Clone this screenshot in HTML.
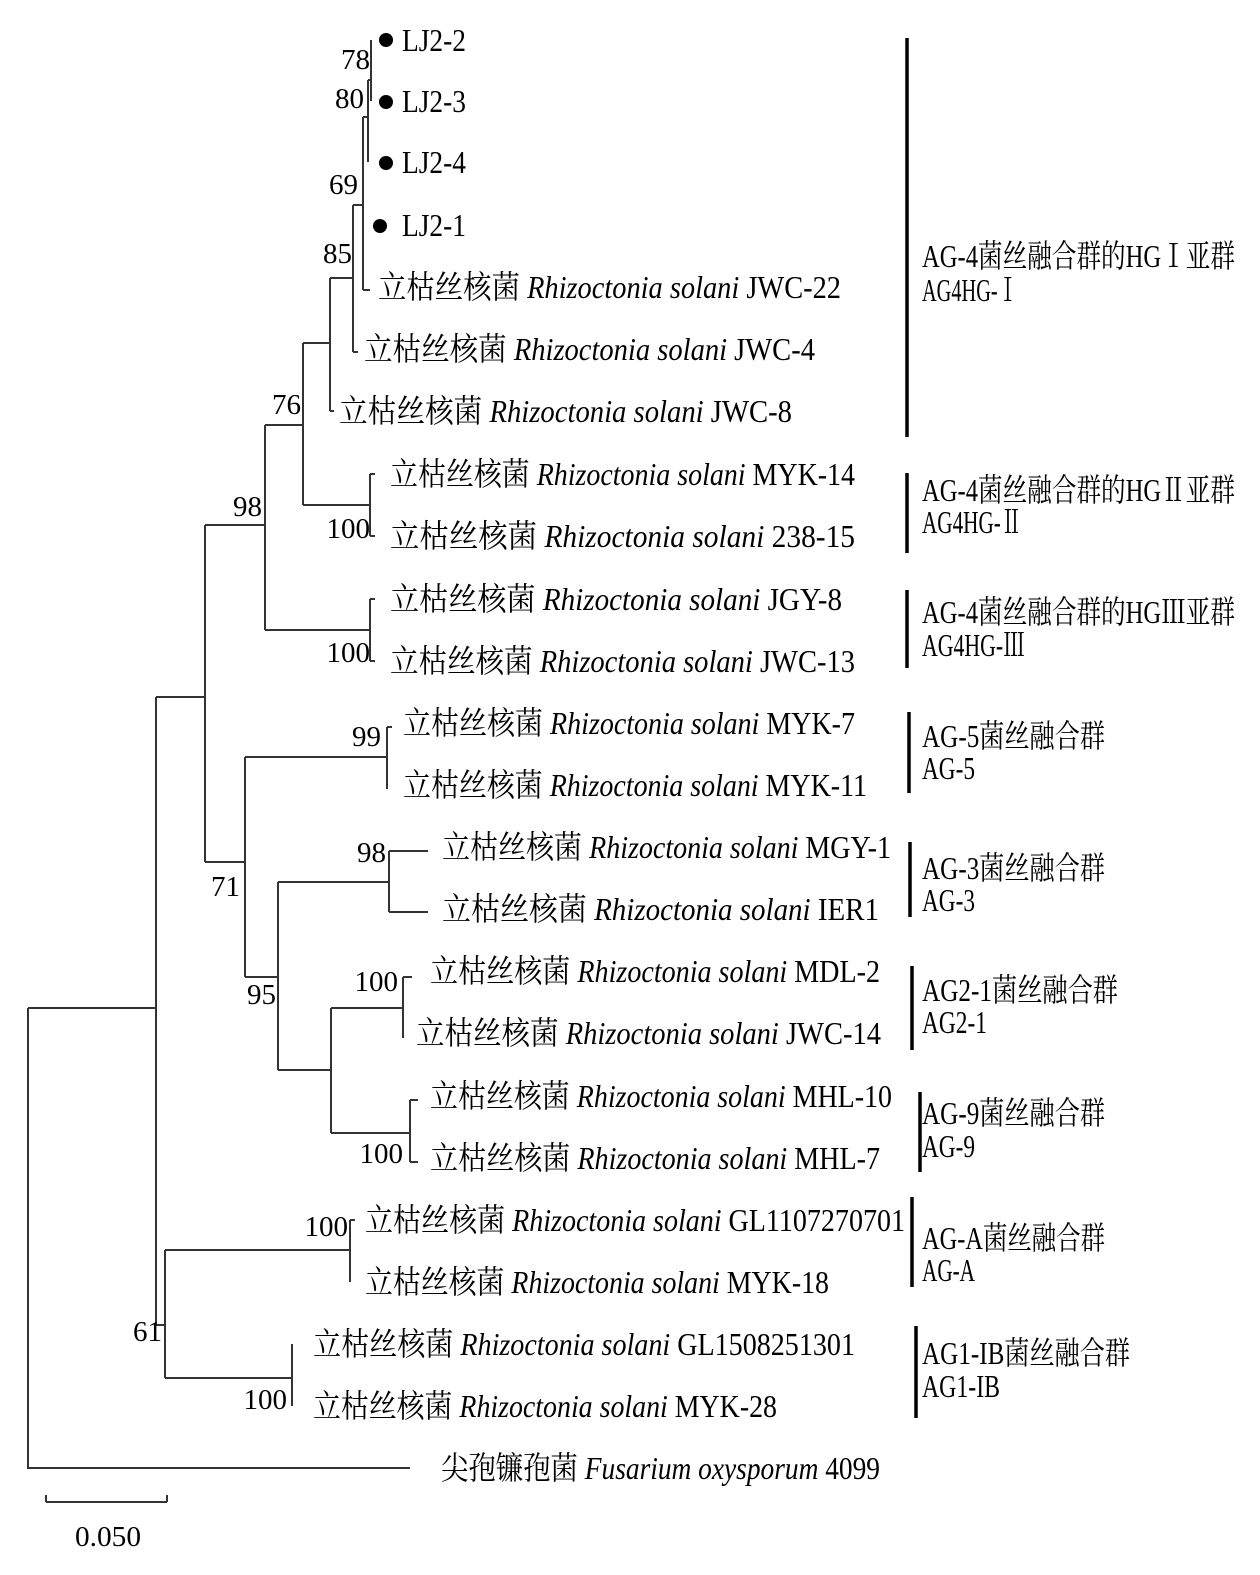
<!DOCTYPE html>
<html><head><meta charset="utf-8"><style>
html,body{margin:0;padding:0;background:#fff;}
svg{display:block;}
text{font-family:"Liberation Serif","Noto Serif CJK SC","Noto Sans CJK SC",serif;font-size:32px;fill:#000;}
.i{font-style:italic;}
.b{font-size:29px;}
</style></head><body>
<svg width="1260" height="1575" viewBox="0 0 1260 1575" xmlns="http://www.w3.org/2000/svg">
<g stroke="#333" stroke-width="2" fill="none">
<path d="M28 1008V1468H410"/>
<path d="M28 1008H156M156 697V1325"/>
<path d="M156 697H205M205 525V862"/>
<path d="M205 525H265M265 425V630"/>
<path d="M265 630H370M370 599V661M370 599H375M370 661H375"/>
<path d="M265 425H303M303 343V505"/>
<path d="M303 505H370M370 474V536M370 474H375M370 536H375"/>
<path d="M303 343H330M330 278V411M330 411H334"/>
<path d="M330 278H353M353 205V352M353 352H358"/>
<path d="M353 205H363M363 117V290M363 290H370"/>
<path d="M363 117H368M368 80V162"/>
<path d="M368 80H371M371 40V101"/>
<path d="M205 862H245M245 757V977"/>
<path d="M245 757H387M387 727V789M387 727H392"/>
<path d="M245 977H278M278 882V1070"/>
<path d="M278 882H389M389 851V912M389 851H428M389 912H428"/>
<path d="M278 1070H331M331 1008V1133"/>
<path d="M331 1008H403M403 977V1038M403 977H412"/>
<path d="M331 1133H410M410 1100V1162M410 1100H418M410 1162H418"/>
<path d="M156 1325H165M165 1250V1378"/>
<path d="M165 1250H350M350 1220V1282M350 1220H355"/>
<path d="M165 1378H292M292 1344V1406"/>
<path d="M46 1502H167M46 1495V1502M167 1495V1502"/>
</g>
<g stroke="#000" stroke-width="3.5">
<path d="M907 38V437M907 473V553M907 590V668M909 712V793M910 842V917M912 966V1050M920 1092V1172M912 1197V1287M916 1326V1418"/>
</g>
<g fill="#000">
<circle cx="386" cy="40" r="7"/><circle cx="386" cy="102" r="7"/><circle cx="386" cy="163" r="7"/><circle cx="380" cy="226" r="7"/>
</g>
<text x="402" y="51" textLength="64" lengthAdjust="spacingAndGlyphs">LJ2-2</text>
<text x="402" y="112" textLength="64" lengthAdjust="spacingAndGlyphs">LJ2-3</text>
<text x="402" y="173" textLength="64" lengthAdjust="spacingAndGlyphs">LJ2-4</text>
<text x="402" y="236" textLength="64" lengthAdjust="spacingAndGlyphs">LJ2-1</text>
<text x="378" y="298" textLength="463" lengthAdjust="spacingAndGlyphs">立枯丝核菌 <tspan class="i">Rhizoctonia solani</tspan> JWC-22</text>
<text x="364" y="360" textLength="451" lengthAdjust="spacingAndGlyphs">立枯丝核菌 <tspan class="i">Rhizoctonia solani</tspan> JWC-4</text>
<text x="339" y="422" textLength="453" lengthAdjust="spacingAndGlyphs">立枯丝核菌 <tspan class="i">Rhizoctonia solani</tspan> JWC-8</text>
<text x="390" y="485" textLength="465" lengthAdjust="spacingAndGlyphs">立枯丝核菌 <tspan class="i">Rhizoctonia solani</tspan> MYK-14</text>
<text x="390" y="547" textLength="465" lengthAdjust="spacingAndGlyphs">立枯丝核菌 <tspan class="i">Rhizoctonia solani</tspan> 238-15</text>
<text x="390" y="610" textLength="452" lengthAdjust="spacingAndGlyphs">立枯丝核菌 <tspan class="i">Rhizoctonia solani</tspan> JGY-8</text>
<text x="390" y="672" textLength="465" lengthAdjust="spacingAndGlyphs">立枯丝核菌 <tspan class="i">Rhizoctonia solani</tspan> JWC-13</text>
<text x="403" y="734" textLength="452" lengthAdjust="spacingAndGlyphs">立枯丝核菌 <tspan class="i">Rhizoctonia solani</tspan> MYK-7</text>
<text x="403" y="796" textLength="464" lengthAdjust="spacingAndGlyphs">立枯丝核菌 <tspan class="i">Rhizoctonia solani</tspan> MYK-11</text>
<text x="442" y="858" textLength="449" lengthAdjust="spacingAndGlyphs">立枯丝核菌 <tspan class="i">Rhizoctonia solani</tspan> MGY-1</text>
<text x="442" y="920" textLength="437" lengthAdjust="spacingAndGlyphs">立枯丝核菌 <tspan class="i">Rhizoctonia solani</tspan> IER1</text>
<text x="430" y="982" textLength="450" lengthAdjust="spacingAndGlyphs">立枯丝核菌 <tspan class="i">Rhizoctonia solani</tspan> MDL-2</text>
<text x="416" y="1044" textLength="465" lengthAdjust="spacingAndGlyphs">立枯丝核菌 <tspan class="i">Rhizoctonia solani</tspan> JWC-14</text>
<text x="430" y="1107" textLength="462" lengthAdjust="spacingAndGlyphs">立枯丝核菌 <tspan class="i">Rhizoctonia solani</tspan> MHL-10</text>
<text x="430" y="1169" textLength="450" lengthAdjust="spacingAndGlyphs">立枯丝核菌 <tspan class="i">Rhizoctonia solani</tspan> MHL-7</text>
<text x="365" y="1231" textLength="540" lengthAdjust="spacingAndGlyphs">立枯丝核菌 <tspan class="i">Rhizoctonia solani</tspan> GL1107270701</text>
<text x="365" y="1293" textLength="464" lengthAdjust="spacingAndGlyphs">立枯丝核菌 <tspan class="i">Rhizoctonia solani</tspan> MYK-18</text>
<text x="313" y="1355" textLength="542" lengthAdjust="spacingAndGlyphs">立枯丝核菌 <tspan class="i">Rhizoctonia solani</tspan> GL1508251301</text>
<text x="313" y="1417" textLength="464" lengthAdjust="spacingAndGlyphs">立枯丝核菌 <tspan class="i">Rhizoctonia solani</tspan> MYK-28</text>
<text x="441" y="1479" textLength="439" lengthAdjust="spacingAndGlyphs">尖孢镰孢菌 <tspan class="i">Fusarium oxysporum</tspan> 4099</text>
<g text-anchor="end">
<text class="b" x="370" y="69">78</text>
<text class="b" x="364" y="108">80</text>
<text class="b" x="358" y="194">69</text>
<text class="b" x="352" y="263">85</text>
<text class="b" x="301" y="414">76</text>
<text class="b" x="262" y="516">98</text>
<text class="b" x="370" y="538">100</text>
<text class="b" x="370" y="662">100</text>
<text class="b" x="381" y="746">99</text>
<text class="b" x="240" y="896">71</text>
<text class="b" x="386" y="862">98</text>
<text class="b" x="276" y="1004">95</text>
<text class="b" x="398" y="991">100</text>
<text class="b" x="403" y="1163">100</text>
<text class="b" x="348" y="1236">100</text>
<text class="b" x="162" y="1341">61</text>
<text class="b" x="287" y="1409">100</text>
</g>
<text x="75" y="1546" textLength="66" lengthAdjust="spacingAndGlyphs" class="b">0.050</text>
<text x="922" y="267" textLength="313" lengthAdjust="spacingAndGlyphs">AG-4菌丝融合群的HGⅠ亚群</text>
<text x="922" y="301" textLength="96" lengthAdjust="spacingAndGlyphs">AG4HG-Ⅰ</text>
<text x="922" y="501" textLength="313" lengthAdjust="spacingAndGlyphs">AG-4菌丝融合群的HGⅡ亚群</text>
<text x="922" y="533" textLength="100" lengthAdjust="spacingAndGlyphs">AG4HG-Ⅱ</text>
<text x="922" y="623" textLength="313" lengthAdjust="spacingAndGlyphs">AG-4菌丝融合群的HGⅢ亚群</text>
<text x="922" y="656" textLength="103" lengthAdjust="spacingAndGlyphs">AG4HG-Ⅲ</text>
<text x="922" y="747" textLength="183" lengthAdjust="spacingAndGlyphs">AG-5菌丝融合群</text>
<text x="922" y="779" textLength="53" lengthAdjust="spacingAndGlyphs">AG-5</text>
<text x="922" y="879" textLength="183" lengthAdjust="spacingAndGlyphs">AG-3菌丝融合群</text>
<text x="922" y="911" textLength="53" lengthAdjust="spacingAndGlyphs">AG-3</text>
<text x="922" y="1001" textLength="196" lengthAdjust="spacingAndGlyphs">AG2-1菌丝融合群</text>
<text x="922" y="1033" textLength="65" lengthAdjust="spacingAndGlyphs">AG2-1</text>
<text x="922" y="1124" textLength="183" lengthAdjust="spacingAndGlyphs">AG-9菌丝融合群</text>
<text x="922" y="1157" textLength="53" lengthAdjust="spacingAndGlyphs">AG-9</text>
<text x="922" y="1249" textLength="183" lengthAdjust="spacingAndGlyphs">AG-A菌丝融合群</text>
<text x="922" y="1281" textLength="53" lengthAdjust="spacingAndGlyphs">AG-A</text>
<text x="922" y="1364" textLength="208" lengthAdjust="spacingAndGlyphs">AG1-IB菌丝融合群</text>
<text x="922" y="1397" textLength="78" lengthAdjust="spacingAndGlyphs">AG1-IB</text>
</svg>
</body></html>
